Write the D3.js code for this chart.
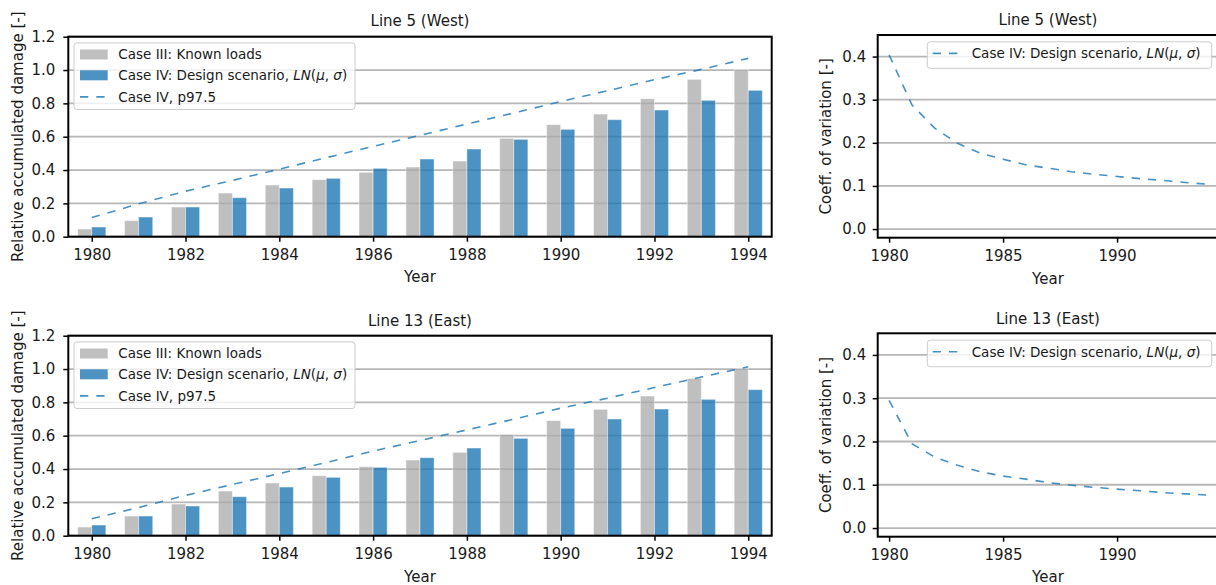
<!DOCTYPE html>
<html>
<head>
<meta charset="utf-8">
<script src="https://cdn.jsdelivr.net/npm/d3@7"></script>
<style>
  html, body { margin: 0; padding: 0; background: #fff; }
  svg { display: block; font-family: "DejaVu Sans", sans-serif; }
</style>
</head>
<body>
<svg id="chart" width="1216" height="585"></svg>
<script>
// ---------------- data ----------------
const years = [1980, 1981, 1982, 1983, 1984, 1985, 1986, 1987, 1988, 1989, 1990, 1991, 1992, 1993, 1994];

const westKnown  = [0.046, 0.096, 0.178, 0.262, 0.310, 0.342, 0.386, 0.418, 0.454, 0.590, 0.672, 0.736, 0.828, 0.944, 1.002];
const westDesign = [0.058, 0.118, 0.178, 0.234, 0.292, 0.350, 0.410, 0.466, 0.526, 0.584, 0.644, 0.702, 0.760, 0.818, 0.878];
const westP975   = [0.115, 0.197, 0.273, 0.338, 0.405, 0.474, 0.542, 0.608, 0.676, 0.742, 0.811, 0.876, 0.942, 1.004, 1.070];
const westCov    = [0.404, 0.288, 0.234, 0.199, 0.176, 0.162, 0.149, 0.141, 0.133, 0.127, 0.122, 0.117, 0.113, 0.108, 0.104];

const eastKnown  = [0.052, 0.118, 0.190, 0.268, 0.316, 0.360, 0.414, 0.454, 0.500, 0.608, 0.690, 0.758, 0.838, 0.944, 1.004];
const eastDesign = [0.064, 0.118, 0.178, 0.234, 0.292, 0.350, 0.410, 0.468, 0.526, 0.584, 0.644, 0.700, 0.760, 0.818, 0.876];
const eastP975   = [0.102, 0.169, 0.242, 0.307, 0.373, 0.439, 0.508, 0.571, 0.635, 0.699, 0.765, 0.825, 0.889, 0.952, 1.014];
const eastCov    = [0.295, 0.195, 0.164, 0.145, 0.130, 0.120, 0.113, 0.105, 0.099, 0.094, 0.090, 0.086, 0.082, 0.079, 0.076];

const barXTicks = [1980, 1982, 1984, 1986, 1988, 1990, 1992, 1994];
const barYTicks = [0.0, 0.2, 0.4, 0.6, 0.8, 1.0, 1.2];
const covXTicks = [1980, 1985, 1990];
const covYTicks = [0.0, 0.1, 0.2, 0.3, 0.4];

const titles = ["Line 5 (West)", "Line 13 (East)"];
const legendBar = ["Case III: Known loads", "Case IV: Design scenario, ", "Case IV, p97.5"];

// ---------------- style ----------------
const C0 = "#1f77b4";
const GRID = "#b6b6b6";
const FS = 15, LFS = 13.5;
const DASH = "8.3,8";
const LINE_OP = 0.82;

const svg = d3.select("#chart");

function addLN(textSel) {
  textSel.append("tspan").style("font-style", "italic").text("LN");
  textSel.append("tspan").text("(");
  textSel.append("tspan").style("font-style", "italic").text("μ");
  textSel.append("tspan").text(", ");
  textSel.append("tspan").style("font-style", "italic").text("σ");
  textSel.append("tspan").text(")");
}

function styleAxis(ax) {
  ax.selectAll(".domain").remove();
  ax.selectAll(".tick line").attr("stroke", "#000").attr("stroke-width", 1.5);
  ax.selectAll(".tick text").attr("fill", "#1a1a1a").style("font-size", FS + "px")
    .style("font-family", "DejaVu Sans");
}

function drawBarPanel(cfg) {
  const x = d3.scaleLinear().domain([1979.5, 1994.5]).range([cfg.left, cfg.right]);
  const y = d3.scaleLinear().domain([0, 1.2]).range([cfg.bottom, cfg.top]);
  const g = svg.append("g");

  // grid
  g.append("g").selectAll("line").data(barYTicks).join("line")
    .attr("x1", cfg.left).attr("x2", cfg.right)
    .attr("y1", d => y(d)).attr("y2", d => y(d))
    .attr("stroke", GRID).attr("stroke-width", 1.8);

  const bw = 0.3;
  g.append("g").selectAll("rect").data(years).join("rect")
    .attr("x", (d) => x(d - bw)).attr("width", (d) => x(d) - x(d - bw))
    .attr("y", (d, i) => y(cfg.known[i])).attr("height", (d, i) => y(0) - y(cfg.known[i]))
    .attr("fill", "#a9a9a9").attr("fill-opacity", 0.75)
    .attr("stroke", "#fff").attr("stroke-opacity", 0.45).attr("stroke-width", 1);
  g.append("g").selectAll("rect").data(years).join("rect")
    .attr("x", (d) => x(d)).attr("width", (d) => x(d + bw) - x(d))
    .attr("y", (d, i) => y(cfg.design[i])).attr("height", (d, i) => y(0) - y(cfg.design[i]))
    .attr("fill", C0).attr("fill-opacity", 0.8)
    .attr("stroke", "#fff").attr("stroke-opacity", 0.4).attr("stroke-width", 1);

  const line = d3.line().x((d, i) => x(years[i])).y(d => y(d));
  g.append("path").datum(cfg.p975).attr("d", line)
    .attr("fill", "none").attr("stroke", C0).attr("stroke-opacity", LINE_OP).attr("stroke-width", 1.6)
    .attr("stroke-dasharray", DASH);

  // axes
  const ax = g.append("g").attr("transform", `translate(0,${cfg.bottom})`)
    .call(d3.axisBottom(x).tickValues(barXTicks).tickFormat(d3.format("d")).tickSize(5).tickPadding(8));
  styleAxis(ax);
  const ay = g.append("g").attr("transform", `translate(${cfg.left},0)`)
    .call(d3.axisLeft(y).tickValues(barYTicks).tickFormat(d3.format(".1f")).tickSize(5).tickPadding(8));
  styleAxis(ay);

  // spines
  g.append("rect").attr("x", cfg.left).attr("y", cfg.top)
    .attr("width", cfg.right - cfg.left).attr("height", cfg.bottom - cfg.top)
    .attr("fill", "none").attr("stroke", "#000").attr("stroke-width", 2);

  // labels
  g.append("text").attr("x", (cfg.left + cfg.right) / 2).attr("y", cfg.titleY)
    .attr("text-anchor", "middle").style("font-size", FS + "px").attr("fill", "#1a1a1a").text(cfg.title);
  g.append("text").attr("x", (cfg.left + cfg.right) / 2).attr("y", cfg.xlabelY)
    .attr("text-anchor", "middle").style("font-size", FS + "px").attr("fill", "#1a1a1a").text("Year");
  g.append("text").attr("transform", `translate(23,${(cfg.top + cfg.bottom) / 2}) rotate(-90)`)
    .attr("text-anchor", "middle").style("font-size", FS + "px").attr("fill", "#1a1a1a")
    .text("Relative accumulated damage [-]");

  // legend
  const lx = cfg.left + 5.7, ly = cfg.top + 6.2;
  const lg = g.append("g").attr("transform", `translate(${lx},${ly})`);
  lg.append("rect").attr("x", 0).attr("y", 0).attr("width", 281).attr("height", 66.6)
    .attr("rx", 3).attr("fill", "#fff").attr("fill-opacity", 0.8)
    .attr("stroke", "#cccccc").attr("stroke-width", 1);
  const rows = [11.6, 32.4, 54];
  lg.append("rect").attr("x", 6).attr("y", rows[0] - 5).attr("width", 27.7).attr("height", 10)
    .attr("fill", "#a9a9a9").attr("fill-opacity", 0.75);
  lg.append("rect").attr("x", 6).attr("y", rows[1] - 5).attr("width", 27.7).attr("height", 10)
    .attr("fill", C0).attr("fill-opacity", 0.8);
  lg.append("line").attr("x1", 6).attr("x2", 33.7).attr("y1", rows[2]).attr("y2", rows[2])
    .attr("stroke", C0).attr("stroke-opacity", LINE_OP).attr("stroke-width", 1.6).attr("stroke-dasharray", DASH);
  lg.selectAll("text.lt").data(legendBar).join("text").attr("class", "lt")
    .attr("x", 44.3).attr("y", (d, i) => rows[i]).attr("dy", "0.36em")
    .style("font-size", LFS + "px").attr("fill", "#1a1a1a")
    .each(function (d, i) {
      const t = d3.select(this);
      t.append("tspan").text(d);
      if (i === 1) addLN(t);
    });
}

function drawCovPanel(cfg) {
  const x = d3.scaleLinear().domain([1979.5, 1994.44]).range([cfg.left, cfg.right]);
  const y = d3.scaleLinear().domain([-0.02, 0.45]).range([cfg.bottom, cfg.top]);
  const g = svg.append("g");

  g.append("g").selectAll("line").data(covYTicks).join("line")
    .attr("x1", cfg.left).attr("x2", cfg.right)
    .attr("y1", d => y(d)).attr("y2", d => y(d))
    .attr("stroke", GRID).attr("stroke-width", 1.8);

  const line = d3.line().x((d, i) => x(years[i])).y(d => y(d));
  g.append("path").datum(cfg.cov).attr("d", line)
    .attr("fill", "none").attr("stroke", C0).attr("stroke-opacity", LINE_OP).attr("stroke-width", 1.6)
    .attr("stroke-dasharray", DASH);

  const ax = g.append("g").attr("transform", `translate(0,${cfg.bottom})`)
    .call(d3.axisBottom(x).tickValues(covXTicks).tickFormat(d3.format("d")).tickSize(5).tickPadding(8));
  styleAxis(ax);
  const ay = g.append("g").attr("transform", `translate(${cfg.left},0)`)
    .call(d3.axisLeft(y).tickValues(covYTicks).tickFormat(d3.format(".1f")).tickSize(5).tickPadding(6.5));
  styleAxis(ay);

  g.append("rect").attr("x", cfg.left).attr("y", cfg.top)
    .attr("width", cfg.right - cfg.left).attr("height", cfg.bottom - cfg.top)
    .attr("fill", "none").attr("stroke", "#000").attr("stroke-width", 2);

  g.append("text").attr("x", (cfg.left + cfg.right) / 2).attr("y", cfg.titleY)
    .attr("text-anchor", "middle").style("font-size", FS + "px").attr("fill", "#1a1a1a").text(cfg.title);
  g.append("text").attr("x", 1048).attr("y", cfg.xlabelY)
    .attr("text-anchor", "middle").style("font-size", FS + "px").attr("fill", "#1a1a1a").text("Year");
  g.append("text").attr("transform", `translate(831,${(cfg.top + cfg.bottom) / 2}) rotate(-90)`)
    .attr("text-anchor", "middle").style("font-size", FS + "px").attr("fill", "#1a1a1a")
    .text("Coeff. of variation [-]");

  const lg = g.append("g").attr("transform", `translate(927.3,${cfg.top + 6.8})`);
  lg.append("rect").attr("x", 0).attr("y", 0).attr("width", 284.4).attr("height", 26.6)
    .attr("rx", 3).attr("fill", "#fff").attr("fill-opacity", 0.8)
    .attr("stroke", "#cccccc").attr("stroke-width", 1);
  lg.append("line").attr("x1", 5.4).attr("x2", 34.4).attr("y1", 11.6).attr("y2", 11.6)
    .attr("stroke", C0).attr("stroke-opacity", LINE_OP).attr("stroke-width", 1.6).attr("stroke-dasharray", DASH);
  const t = lg.append("text").attr("x", 44.4).attr("y", 11.6).attr("dy", "0.36em")
    .style("font-size", LFS + "px").attr("fill", "#1a1a1a");
  t.append("tspan").text(legendBar[1]);
  addLN(t);
}

drawBarPanel({ left: 68.3, right: 771.7, top: 36.7, bottom: 236.7, titleY: 26, xlabelY: 282,
  title: titles[0], known: westKnown, design: westDesign, p975: westP975 });
drawBarPanel({ left: 68.3, right: 771.7, top: 335.7, bottom: 535.7, titleY: 326, xlabelY: 581.5,
  title: titles[1], known: eastKnown, design: eastDesign, p975: eastP975 });
drawCovPanel({ left: 877.7, right: 1218.3, top: 35, bottom: 237.7, titleY: 25, xlabelY: 283.5,
  title: titles[0], cov: westCov });
drawCovPanel({ left: 877.7, right: 1218.3, top: 333.3, bottom: 536.7, titleY: 324, xlabelY: 582,
  title: titles[1], cov: eastCov });
</script>
</body>
</html>
